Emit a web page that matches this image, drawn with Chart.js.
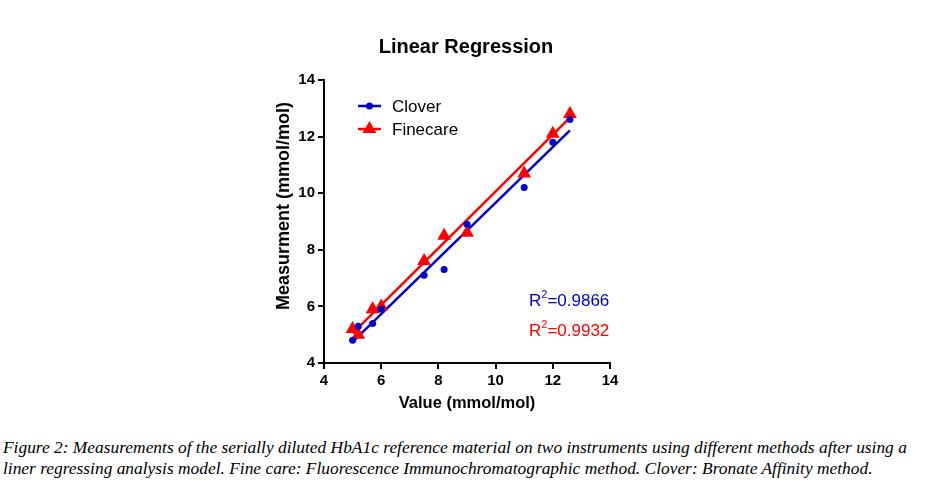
<!DOCTYPE html>
<html>
<head>
  <title>Linear Regression</title>
  <style>
    body {
      margin: 0;
      padding: 0;
      background-color: #fff;
      width: 944px;
      height: 491px;
      overflow: hidden;
    }

    .chart-box {
      width: 944px;
      height: 430px;
    }

    .caption {
      font-family: "Liberation Serif", "DejaVu Serif", serif;
      font-style: italic;
      font-size: 17.4px;
      line-height: 21px;
      color: #000;
      padding-left: 3px;
      margin-top: 7px;
      white-space: nowrap;
    }
  </style>
  <script src="https://cdn.jsdelivr.net/npm/chart.js"></script>
</head>
<body>
<div class="chart-box">
  <canvas id="regChart" width="944" height="430"></canvas>
</div>
<div class="caption">Figure 2: Measurements of the serially diluted HbA1c reference material on two instruments using different methods after using a<br>liner regressing analysis model. Fine care: Fluorescence Immunochromatographic method. Clover: Bronate Affinity method.</div>

<script>
  // values
  const xValues = [5.0, 5.2, 5.7, 6.0, 7.5, 8.2, 9.0, 11.0, 12.0, 12.6];
  const cloverValues = [4.8, 5.3, 5.4, 5.9, 7.1, 7.3, 8.9, 10.2, 11.8, 12.6];
  const finecareValues = [5.2, 5.0, 5.9, 6.0, 7.6, 8.5, 8.6, 10.7, 12.1, 12.8];

  // fitted line end points (as drawn in the figure)
  const fitX = [5.0, 12.6];
  const cloverFit = [4.75, 12.22];
  const finecareFit = [5.05, 12.67];

  const axisTicks = [4, 6, 8, 10, 12, 14];
  const r2Labels = ['0.9866', '0.9932'];

  const blue = '#0000CC';
  const red = '#FF0000';

  function toPoints(xs, ys) {
    return xs.map((x, i) => ({ x: x, y: ys[i] }));
  }

  // title, legend, y title and R² labels
  const extras = {
    id: 'extras',
    afterDraw(chart) {
      const ctx = chart.ctx;
      ctx.save();
      ctx.fillStyle = '#000';
      ctx.font = 'bold 20px Arial';
      ctx.textAlign = 'center';
      ctx.textBaseline = 'middle';
      ctx.fillText('Linear Regression', 466, 47);

      // y axis title
      ctx.save();
      ctx.translate(284, 206);
      ctx.rotate(-Math.PI / 2);
      ctx.font = 'bold 18px Arial';
      ctx.fillText('Measurment (mmol/mol)', 0, 0);
      ctx.restore();

      // legend
      const items = [
        { label: 'Clover', color: blue, style: 'circle', r: 3.5, y: 106 },
        { label: 'Finecare', color: red, style: 'triangle', r: 8, y: 129 }
      ];
      items.forEach(it => {
        ctx.strokeStyle = it.color;
        ctx.lineWidth = 2.5;
        ctx.beginPath();
        ctx.moveTo(358, it.y);
        ctx.lineTo(381, it.y);
        ctx.stroke();
        ctx.fillStyle = it.color;
        Chart.helpers.drawPoint(ctx, { pointStyle: it.style, radius: it.r, borderWidth: 0 }, 369.5, it.y);
        ctx.fillStyle = '#000';
        ctx.font = '17px Arial';
        ctx.textAlign = 'left';
        ctx.fillText(it.label, 392, it.y + 1);
      });

      // R² labels
      [[blue, r2Labels[0], 301], [red, r2Labels[1], 331]].forEach(([c, v, y]) => {
        ctx.fillStyle = c;
        ctx.textAlign = 'left';
        ctx.font = '17px Arial';
        ctx.fillText('R', 529, y);
        const rw = ctx.measureText('R').width;
        ctx.font = '11px Arial';
        ctx.fillText('2', 529 + rw, y - 6);
        const sw = ctx.measureText('2').width;
        ctx.font = '17px Arial';
        ctx.fillText('=' + v, 529 + rw + sw, y);
      });
      ctx.restore();
    }
  };

  const ctx = document.getElementById('regChart').getContext('2d');

  new Chart(ctx, {
    type: 'scatter',
    data: {
      datasets: [
        {
          label: 'Clover',
          data: toPoints(xValues, cloverValues),
          backgroundColor: blue,
          borderColor: blue,
          pointStyle: 'circle',
          pointRadius: 3.5,
          pointBorderWidth: 0
        },
        {
          label: 'Finecare',
          data: toPoints(xValues, finecareValues),
          backgroundColor: red,
          borderColor: red,
          pointStyle: 'triangle',
          pointRadius: 8,
          pointBorderWidth: 0
        },
        {
          label: 'Clover fit',
          data: toPoints(fitX, cloverFit),
          showLine: true,
          borderColor: blue,
          borderWidth: 2.5,
          pointRadius: 0
        },
        {
          label: 'Finecare fit',
          data: toPoints(fitX, finecareFit),
          showLine: true,
          borderColor: red,
          borderWidth: 2.5,
          pointRadius: 0
        }
      ]
    },
    options: {
      responsive: false,
      animation: false,
      layout: {
        padding: { top: 80, left: 264, right: 334, bottom: 17 }
      },
      plugins: {
        legend: { display: false },
        tooltip: { enabled: false }
      },
      scales: {
        x: {
          type: 'linear',
          min: 4,
          max: 14,
          afterBuildTicks: s => { s.ticks = axisTicks.map(v => ({ value: v })); },
          afterFit: s => { s.height = 50; },
          border: { color: '#000', width: 2 },
          grid: { drawOnChartArea: false, drawTicks: true, tickLength: 6, color: '#000', lineWidth: 2 },
          ticks: { color: '#000', font: { family: 'Arial', size: 15, weight: 'bold' }, padding: 3, maxRotation: 0 },
          title: {
            display: true,
            text: 'Value (mmol/mol)',
            color: '#000',
            font: { family: 'Arial', size: 16.5, weight: 'bold' },
            padding: { top: 8, bottom: 0 }
          }
        },
        y: {
          type: 'linear',
          min: 4,
          max: 14,
          afterBuildTicks: s => { s.ticks = axisTicks.map(v => ({ value: v })); },
          afterFit: s => { s.width = 60; },
          border: { color: '#000', width: 2 },
          grid: { drawOnChartArea: false, drawTicks: true, tickLength: 6, color: '#000', lineWidth: 2 },
          ticks: { color: '#000', font: { family: 'Arial', size: 15, weight: 'bold' }, padding: 3 }
        }
      }
    },
    plugins: [extras]
  });
</script>

</body>
</html>
